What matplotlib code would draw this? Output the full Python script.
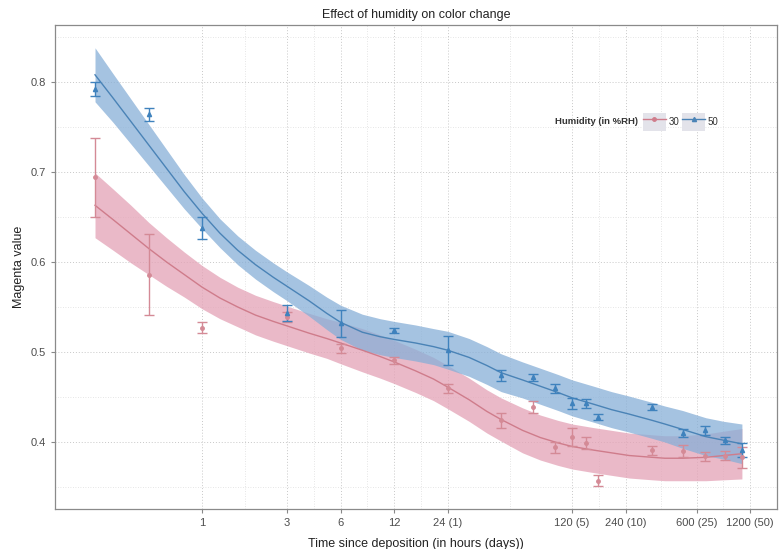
import numpy as np
import matplotlib
matplotlib.use('Agg')
import matplotlib.pyplot as plt
from matplotlib.patches import Rectangle
from matplotlib.lines import Line2D
from matplotlib.legend_handler import HandlerTuple

plt.rcParams['font.family'] = ['Liberation Sans', 'DejaVu Sans']

# measured points (hours since deposition)
hours = [0.25, 0.5, 1, 3, 6, 12, 24, 48, 72, 96, 120, 144, 168, 336, 504, 672, 864, 1080]

rh30_mean = [0.694, 0.586, 0.527, 0.539, 0.504, 0.491, 0.460, 0.424, 0.439, 0.394,
             0.406, 0.399, 0.357, 0.391, 0.390, 0.384, 0.385, 0.383]
rh30_err = [0.044, 0.045, 0.006, 0.006, 0.005, 0.004, 0.005, 0.008, 0.007, 0.006,
            0.010, 0.007, 0.006, 0.005, 0.007, 0.005, 0.005, 0.012]

rh50_mean = [0.792, 0.764, 0.638, 0.543, 0.532, 0.524, 0.502, 0.474, 0.472, 0.460,
             0.443, 0.443, 0.428, 0.439, 0.410, 0.413, 0.402, 0.391]
rh50_err = [0.008, 0.007, 0.012, 0.009, 0.015, 0.003, 0.016, 0.0065, 0.004, 0.005,
            0.006, 0.005, 0.003, 0.003, 0.004, 0.005, 0.004, 0.008]

# smoothed fit + confidence band half-width at log10(hours)
fit_log_hours = [-0.602, -0.5, -0.4, -0.3, -0.2, -0.1, 0.0, 0.1, 0.2, 0.3, 0.4, 0.477,
                 0.6, 0.7, 0.778, 0.9, 1.0, 1.079, 1.2, 1.3, 1.38, 1.5, 1.6, 1.68,
                 1.8, 1.9, 2.0, 2.08, 2.2, 2.3, 2.4, 2.53, 2.6, 2.7, 2.83, 2.93, 3.033]

rh30_fit = [0.663, 0.647, 0.631, 0.615, 0.600, 0.586, 0.572, 0.560, 0.550, 0.541, 0.534,
            0.529, 0.521, 0.515, 0.510, 0.502, 0.495, 0.489, 0.479, 0.470, 0.461, 0.447,
            0.434, 0.425, 0.413, 0.405, 0.399, 0.395, 0.391, 0.388, 0.385, 0.383, 0.382,
            0.382, 0.383, 0.385, 0.387]
rh30_band = [0.036, 0.034, 0.032, 0.029, 0.027, 0.025, 0.024, 0.023, 0.022, 0.022, 0.022,
             0.022, 0.022, 0.022, 0.023, 0.024, 0.024, 0.024, 0.024, 0.024, 0.024, 0.024,
             0.024, 0.024, 0.025, 0.025, 0.025, 0.025, 0.025, 0.025, 0.025, 0.025, 0.025,
             0.025, 0.026, 0.027, 0.028]

rh50_fit = [0.808, 0.782, 0.756, 0.730, 0.704, 0.678, 0.654, 0.632, 0.613, 0.597, 0.583,
            0.573, 0.557, 0.543, 0.533, 0.522, 0.517, 0.514, 0.510, 0.506, 0.502, 0.494,
            0.485, 0.477, 0.469, 0.462, 0.455, 0.449, 0.442, 0.436, 0.431, 0.424, 0.420,
            0.414, 0.406, 0.402, 0.398]
rh50_band = [0.030, 0.027, 0.025, 0.023, 0.021, 0.019, 0.017, 0.016, 0.016, 0.016, 0.016,
             0.016, 0.017, 0.018, 0.019, 0.020, 0.020, 0.020, 0.020, 0.020, 0.021, 0.021,
             0.021, 0.021, 0.020, 0.020, 0.020, 0.020, 0.020, 0.020, 0.020, 0.020, 0.020,
             0.021, 0.021, 0.021, 0.022]

xticks = [1, 3, 6, 12, 24, 120, 240, 600, 1200]
xtick_labels = ['1', '3', '6', '12', '24 (1)', '120 (5)', '240 (10)', '600 (25)', '1200 (50)']
yticks = [0.4, 0.5, 0.6, 0.7, 0.8]

red_line, red_fill = '#cf7c8b', '#e4a2b6'
blue_line, blue_fill = '#4a83b6', '#87afd7'

fig = plt.figure(figsize=(7.79, 5.49), dpi=100)
ax = fig.add_axes([55 / 779, 40 / 549, 722 / 779, 484 / 549])

fx = 10 ** np.array(fit_log_hours)
for fit, band, lc, fc in [(rh30_fit, rh30_band, red_line, red_fill),
                          (rh50_fit, rh50_band, blue_line, blue_fill)]:
    fit = np.array(fit)
    band = np.array(band)
    ax.fill_between(fx, fit - band, fit + band, color=fc, alpha=0.75, lw=0, zorder=2)
    ax.plot(fx, fit, color=lc, lw=1.0, zorder=3)

ax.errorbar(hours, rh30_mean, yerr=rh30_err, fmt='o', ms=2.5, color='#d48a96',
            ecolor='#d48a96', elinewidth=1, capsize=3.5, capthick=1, zorder=4)
ax.errorbar(hours, rh50_mean, yerr=rh50_err, fmt='^', ms=3, color='#3f82bd',
            ecolor='#3f82bd', elinewidth=1, capsize=3.5, capthick=1, zorder=4)

ax.set_xscale('log')
ax.set_xlim(0.149, 1699)
ax.set_ylim(0.3256, 0.8633)

ax.set_xticks(xticks)
ax.set_xticklabels(xtick_labels)
minor_x = np.sqrt(np.array(xticks[:-1]) * np.array(xticks[1:]))
ax.set_xticks(minor_x, minor=True)
ax.set_yticks(yticks)
ax.set_yticklabels([f'{v:.1f}' for v in yticks])
ax.set_yticks(np.arange(0.35, 0.86, 0.1), minor=True)

ax.tick_params(which='major', colors='#888888', labelcolor='#4d4d4d', labelsize=8,
               length=3, width=0.8)
ax.tick_params(which='minor', length=0)
ax.grid(which='major', color='#c8c8c8', lw=0.7, ls=(0, (1, 2)), zorder=0)
ax.grid(which='minor', color='#dddddd', lw=0.6, ls=(0, (1, 2)), zorder=0)
ax.set_axisbelow(True)
for s in ax.spines.values():
    s.set_color('#8a8a8a')
    s.set_linewidth(0.9)

ax.set_title('Effect of humidity on color change', fontsize=9, color='#222222', pad=5)
ax.set_xlabel('Time since deposition (in hours (days))', fontsize=9, color='#222222', labelpad=7)
ax.set_ylabel('Magenta value', fontsize=9, color='#222222', labelpad=4)

# legend: gray key boxes with line + point
key_bg = '#e3e3ea'
h30 = (Rectangle((0, 0), 1, 1, facecolor=key_bg, edgecolor='none'),
       Line2D([], [], color=red_line, lw=1, marker='o', ms=2.5))
h50 = (Rectangle((0, 0), 1, 1, facecolor=key_bg, edgecolor='none'),
       Line2D([], [], color=blue_line, lw=1, marker='^', ms=3))
leg = ax.legend([h30, h50], ['30', '50'], ncol=2, loc='center left',
                bbox_to_anchor=(0.814, 0.80), frameon=False, fontsize=7,
                handler_map={tuple: HandlerTuple(ndivide=1, pad=0)},
                handlelength=2.4, handleheight=2.4, handletextpad=0.25,
                columnspacing=0.3, borderpad=0, borderaxespad=0)
for t in leg.get_texts():
    t.set_color('#333333')
ax.text(0.808, 0.80, 'Humidity (in %RH)', transform=ax.transAxes, ha='right',
        va='center', fontsize=6.8, fontweight='bold', color='#333333')

fig.savefig('out.png', dpi=100)
